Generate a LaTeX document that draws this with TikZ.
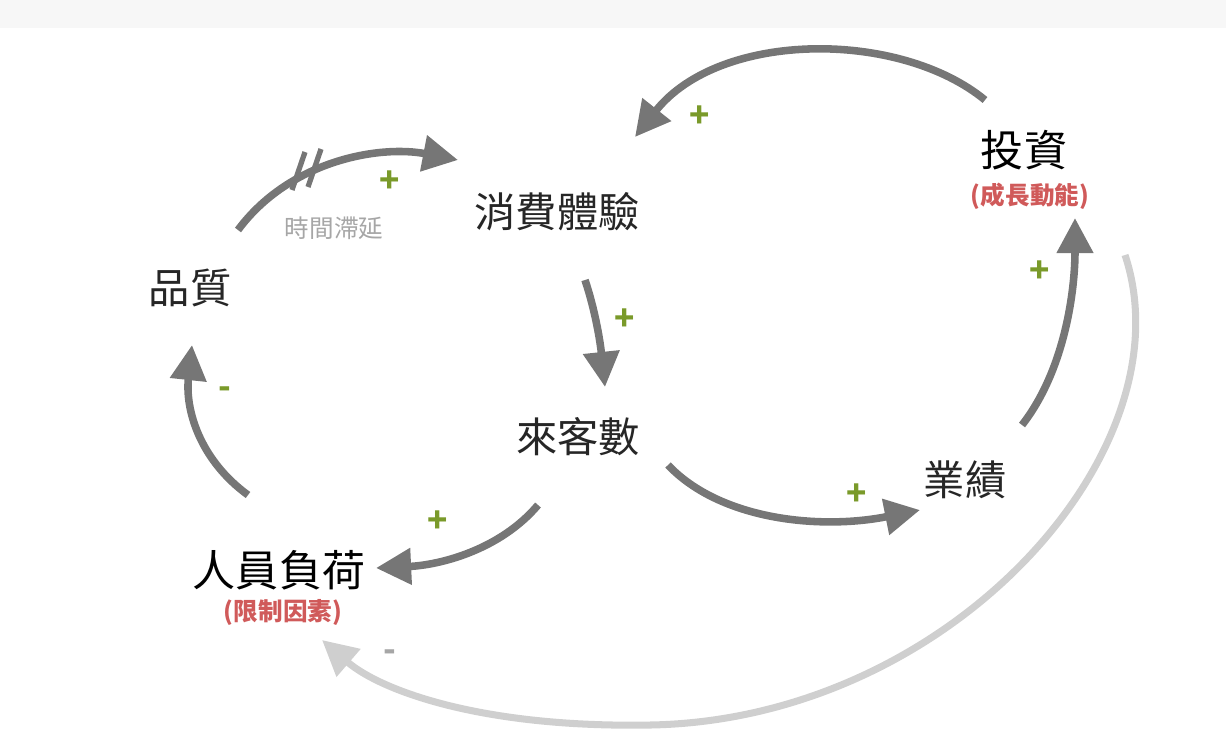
\documentclass[tikz,border=0pt]{standalone}
\usepackage{fontspec}
\setmainfont{Noto Sans CJK TC}
\usetikzlibrary{arrows.meta}
\definecolor{arr}{HTML}{767676}
\definecolor{lite}{HTML}{CFCFCF}
\definecolor{sgn}{HTML}{7A9A2A}
\definecolor{redl}{HTML}{D05A5A}
\begin{document}
\begin{tikzpicture}[x=0.02cm,y=-0.02cm,
  lbl/.style={font=\fontsize{23.5}{26}\selectfont,text=black!85},
  big/.style={font=\fontsize{24.5}{28}\selectfont,text=black},
  sub/.style={font=\fontsize{14}{16}\selectfont\bfseries,text=redl},
  sg/.style={font=\fontsize{19}{20}\selectfont\bfseries,text=sgn},
  ar/.style={draw=arr,line width=4.3pt,-{Triangle[length=20pt,width=20pt]}},
  la/.style={draw=lite,line width=4pt,-{Triangle[length=20pt,width=20pt]}}]
\useasboundingbox (0,0) rectangle (1226,741);
\fill[black!3] (0,0) rectangle (1226,28);
\node[lbl] (xf) at (557,212) {消費體驗};
\node[lbl] (pz) at (190,288) {品質};
\node[lbl] (lk) at (578,437) {來客數};
\node[lbl] (yj) at (965,480) {業績};
\node[big] (tz) at (1024,150) {投資};
\node[sub] (tzs) at (1030,196) {(成長動能)};
\node[big] (ry) at (279,570) {人員負荷};
\node[sub] (rys) at (283,612) {(限制因素)};
\node[font=\fontsize{14}{16}\selectfont,text=black!35] (dl) at (334,228) {時間滯延};
\coordinate (a1s) at (238,230); \coordinate (a1e) at (458,160);
\draw[ar] (a1s) .. controls (290,160) and (380,145) .. (a1e);
\draw[arr,line width=3pt] (292,190)--(305,152) (308,187)--(321,149);
\coordinate (a2s) at (985,100); \coordinate (a2e) at (635,137);
\draw[ar] (a2s) .. controls (900,30) and (720,30) .. (a2e);
\coordinate (a3s) at (585,280); \coordinate (a3e) at (605,387);
\draw[ar] (a3s) .. controls (595,310) and (600,340) .. (a3e);
\coordinate (a4s) at (668,465); \coordinate (a4e) at (920,510);
\draw[ar] (a4s) .. controls (720,520) and (820,530) .. (a4e);
\coordinate (a5s) at (1022,425); \coordinate (a5e) at (1075,218);
\draw[ar] (a5s) .. controls (1065,370) and (1075,290) .. (a5e);
\coordinate (a6s) at (538,505); \coordinate (a6e) at (376,568);
\draw[ar] (a6s) .. controls (500,550) and (440,565) .. (a6e);
\coordinate (a7s) at (248,495); \coordinate (a7e) at (192,345);
\draw[ar] (a7s) .. controls (200,460) and (185,410) .. (a7e);
\coordinate (a8s) at (1125,255); \coordinate (a8e) at (322,640);
\draw[la] (a8s) .. controls (1190,450) and (950,720) .. (650,725) .. controls (480,728) and (380,690) .. (a8e);
\node[sg] at (700,117) {+};
\node[sg] at (390,182) {+};
\node[sg] at (625,320) {+};
\node[sg] at (1040,272) {+};
\node[sg] at (857,495) {+};
\node[sg] at (438,522) {+};
\node[sg] at (225,393) {-};
\node[font=\fontsize{19}{20}\selectfont\bfseries,text=black!35] at (390,656) {-};
\end{tikzpicture}
\end{document}
